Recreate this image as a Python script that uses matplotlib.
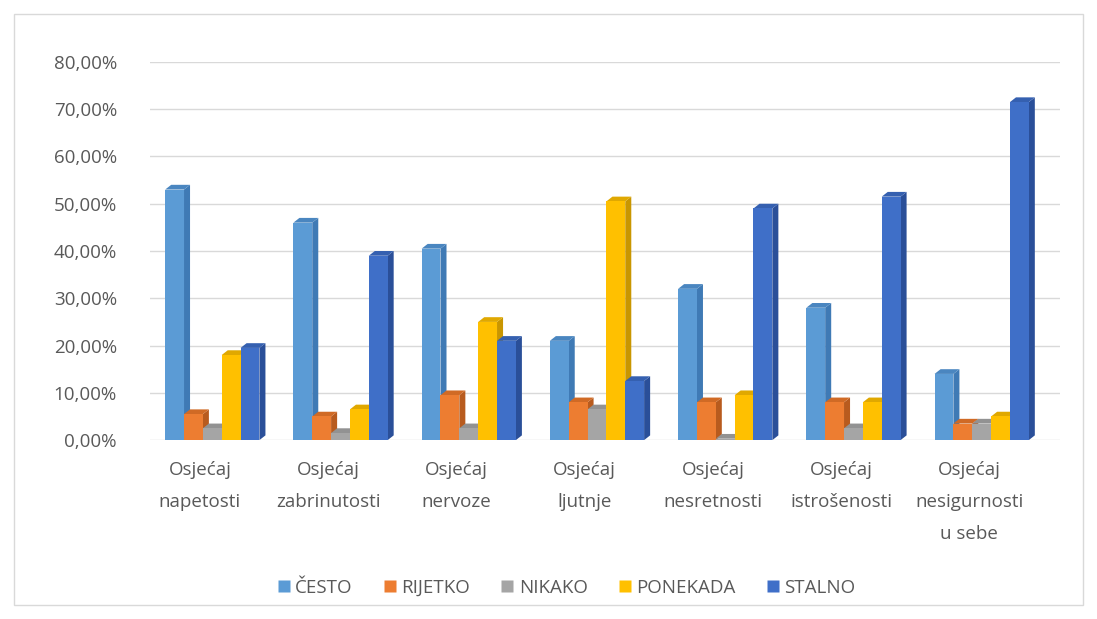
import numpy as np
import matplotlib
matplotlib.use("Agg")
import matplotlib.pyplot as plt
from matplotlib.patches import Polygon, Rectangle
from matplotlib.lines import Line2D

plt.rcParams['font.family'] = ['Open Sans', 'DejaVu Sans']

# data (percent)
categories = ["Osjećaj\nnapetosti", "Osjećaj\nzabrinutosti", "Osjećaj\nnervoze",
              "Osjećaj\nljutnje", "Osjećaj\nnesretnosti", "Osjećaj\nistrošenosti",
              "Osjećaj\nnesigurnosti\nu sebe"]
series_names = ["ČESTO", "RIJETKO", "NIKAKO", "PONEKADA", "STALNO"]
cesto = [53.0, 46.0, 40.5, 21.0, 32.0, 28.0, 14.0]
rijetko = [5.5, 5.0, 9.5, 8.0, 8.0, 8.0, 3.5]
nikako = [2.5, 1.5, 2.5, 6.5, 0.3, 2.5, 3.5]
ponekada = [18.0, 6.5, 25.0, 50.5, 9.5, 8.0, 5.0]
stalno = [19.5, 39.0, 21.0, 12.5, 49.0, 51.5, 71.5]
yticks = [0, 10, 20, 30, 40, 50, 60, 70, 80]

colors = ["#5B9BD5", "#ED7D31", "#A5A5A5", "#FFC000", "#3F6FC8"]
side_colors = ["#3F7AB5", "#B85B1E", "#7F7F7F", "#C99600", "#2A4F99"]
top_colors = ["#4A86C0", "#D06A25", "#929292", "#E0A800", "#3560B0"]

fig = plt.figure(figsize=(10.97, 6.19), dpi=100)
ax = fig.add_axes([0.137, 0.289, 0.829, 0.611])

# outer chart border
fig.patches.append(Rectangle((0.013, 0.022), 0.974, 0.955, transform=fig.transFigure,
                             fill=False, edgecolor="#D9D9D9", linewidth=1.0))

ax.set_xlim(-0.507, 6.585)
ax.set_ylim(0, 80)

for t in yticks:
    ax.axhline(t, color="#D9D9D9", linewidth=1.0, zorder=0)

all_series = [cesto, rijetko, nikako, ponekada, stalno]
w = 0.147
dx = 0.047
dy = 1.0
x = np.arange(len(categories))
z = 2
for ci in range(len(categories)):
    for si, vals in enumerate(all_series):
        x0 = x[ci] + (si - 2) * w - w / 2 - dx / 2
        x1 = x0 + w
        v = vals[ci]
        side = Polygon([(x1, 0), (x1 + dx, dy), (x1 + dx, v + dy), (x1, v)],
                       closed=True, facecolor=side_colors[si], edgecolor="none", zorder=z)
        top = Polygon([(x0, v), (x1, v), (x1 + dx, v + dy), (x0 + dx, v + dy)],
                      closed=True, facecolor=top_colors[si], edgecolor="none", zorder=z)
        ax.add_patch(side)
        ax.add_patch(top)
        ax.bar(x0, v, width=w, align="edge", color=colors[si], zorder=z + 0.5)
        z += 1

ax.set_yticks(yticks)
ax.set_yticklabels([f"{t:.2f}".replace(".", ",") + "%" for t in yticks],
                   fontsize=13.5, color="#595959")
ax.set_xticks(x - 0.12)
ax.set_xticklabels(categories, fontsize=13.5, color="#595959", linespacing=2.0)
ax.tick_params(axis="y", length=0, pad=24)
ax.tick_params(axis="x", length=0, pad=15)
for s in ax.spines.values():
    s.set_visible(False)

handles = [Line2D([], [], marker="s", linestyle="none", markersize=8,
                  markerfacecolor=c, markeredgecolor="none") for c in colors]
fig.legend(handles, series_names, loc="center", bbox_to_anchor=(0.515, 0.05), ncol=5,
           frameon=False, fontsize=13.5, labelcolor="#595959", handletextpad=0.1,
           handlelength=1.0, columnspacing=1.5)

fig.savefig("out.png", dpi=100)
